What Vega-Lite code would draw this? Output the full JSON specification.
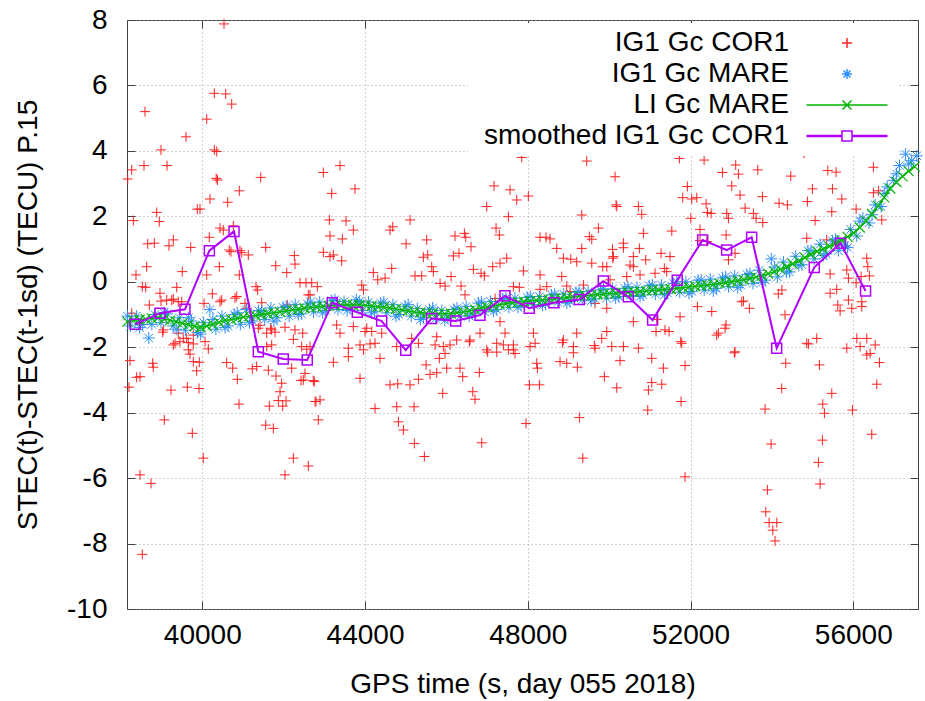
{
  "$schema": "https://vega.github.io/schema/vega-lite/v6.json",
  "width": 791,
  "height": 589,
  "autosize": {"type": "none"},
  "padding": {"left": 127, "top": 20, "right": 7, "bottom": 92},
  "config": {
    "view": {"stroke": "#404040", "strokeWidth": 1},
    "font": "Liberation Sans",
    "axis": {"labelFont": "Liberation Sans", "titleFont": "Liberation Sans", "labelFontSize": 28, "titleFontSize": 28, "labelColor": "#000000", "titleColor": "#000000", "titleFontWeight": "normal", "domain": false, "tickColor": "#404040", "gridColor": "#a0a0a0", "gridDash": [1, 3], "gridOpacity": 1}
  },
  "datasets": {
    "cor": [
      {"t":40534,"v":7.88,"s":"IG1 Gc COR1"},{"t":40296,"v":5.76,"s":"IG1 Gc COR1"},{"t":40575,"v":5.74,"s":"IG1 Gc COR1"},{"t":40723,"v":5.43,"s":"IG1 Gc COR1"},{"t":38592,"v":5.2,"s":"IG1 Gc COR1"},{"t":40109,"v":4.97,"s":"IG1 Gc COR1"},{"t":39600,"v":4.43,"s":"IG1 Gc COR1"},{"t":40296,"v":4.03,"s":"IG1 Gc COR1"},{"t":40355,"v":3.98,"s":"IG1 Gc COR1"},{"t":38986,"v":4.03,"s":"IG1 Gc COR1"},
      {"t":38265,"v":3.42,"s":"IG1 Gc COR1"},{"t":38167,"v":3.14,"s":"IG1 Gc COR1"},{"t":38568,"v":3.55,"s":"IG1 Gc COR1"},{"t":39133,"v":3.55,"s":"IG1 Gc COR1"},{"t":40342,"v":3.16,"s":"IG1 Gc COR1"},{"t":40375,"v":3.11,"s":"IG1 Gc COR1"},{"t":41436,"v":3.19,"s":"IG1 Gc COR1"},{"t":40910,"v":2.78,"s":"IG1 Gc COR1"},{"t":40190,"v":2.53,"s":"IG1 Gc COR1"},{"t":40625,"v":2.43,"s":"IG1 Gc COR1"},
      {"t":39878,"v":2.22,"s":"IG1 Gc COR1"},{"t":39944,"v":2.22,"s":"IG1 Gc COR1"},{"t":38880,"v":2.12,"s":"IG1 Gc COR1"},{"t":38944,"v":1.84,"s":"IG1 Gc COR1"},{"t":38305,"v":1.87,"s":"IG1 Gc COR1"},{"t":40436,"v":1.64,"s":"IG1 Gc COR1"},{"t":40517,"v":1.58,"s":"IG1 Gc COR1"},{"t":40763,"v":1.71,"s":"IG1 Gc COR1"},{"t":40172,"v":1.36,"s":"IG1 Gc COR1"},{"t":38659,"v":1.16,"s":"IG1 Gc COR1"},
      {"t":38821,"v":1.18,"s":"IG1 Gc COR1"},{"t":39182,"v":1.1,"s":"IG1 Gc COR1"},{"t":39288,"v":1.28,"s":"IG1 Gc COR1"},{"t":39716,"v":1.05,"s":"IG1 Gc COR1"},{"t":40664,"v":0.97,"s":"IG1 Gc COR1"},{"t":40927,"v":0.95,"s":"IG1 Gc COR1"},{"t":41131,"v":0.82,"s":"IG1 Gc COR1"},{"t":41559,"v":1.05,"s":"IG1 Gc COR1"},{"t":42262,"v":0.8,"s":"IG1 Gc COR1"},{"t":42279,"v":0.54,"s":"IG1 Gc COR1"},
      {"t":41805,"v":0.49,"s":"IG1 Gc COR1"},{"t":42076,"v":0.28,"s":"IG1 Gc COR1"},{"t":38634,"v":0.46,"s":"IG1 Gc COR1"},{"t":38371,"v":0.21,"s":"IG1 Gc COR1"},{"t":40419,"v":0.46,"s":"IG1 Gc COR1"},{"t":39509,"v":0.31,"s":"IG1 Gc COR1"},{"t":40910,"v":0.21,"s":"IG1 Gc COR1"},{"t":42402,"v":-0.03,"s":"IG1 Gc COR1"},{"t":42550,"v":-0.03,"s":"IG1 Gc COR1"},{"t":38526,"v":-0.15,"s":"IG1 Gc COR1"},
      {"t":38609,"v":-0.17,"s":"IG1 Gc COR1"},{"t":41321,"v":-0.15,"s":"IG1 Gc COR1"},{"t":41362,"v":-0.25,"s":"IG1 Gc COR1"},{"t":42828,"v":-0.15,"s":"IG1 Gc COR1"},{"t":39372,"v":-0.17,"s":"IG1 Gc COR1"},{"t":38961,"v":-0.35,"s":"IG1 Gc COR1"},{"t":40247,"v":-0.37,"s":"IG1 Gc COR1"},{"t":42648,"v":-0.4,"s":"IG1 Gc COR1"},{"t":40846,"v":-0.45,"s":"IG1 Gc COR1"},{"t":39126,"v":-0.56,"s":"IG1 Gc COR1"},
      {"t":39288,"v":-0.53,"s":"IG1 Gc COR1"},{"t":40436,"v":-0.61,"s":"IG1 Gc COR1"},{"t":40043,"v":-0.66,"s":"IG1 Gc COR1"},{"t":38698,"v":-0.71,"s":"IG1 Gc COR1"},{"t":39495,"v":-0.61,"s":"IG1 Gc COR1"},{"t":41461,"v":-0.64,"s":"IG1 Gc COR1"},{"t":41092,"v":-0.81,"s":"IG1 Gc COR1"},{"t":42090,"v":-0.71,"s":"IG1 Gc COR1"},{"t":38265,"v":-0.96,"s":"IG1 Gc COR1"},{"t":41682,"v":-1.42,"s":"IG1 Gc COR1"},
      {"t":41377,"v":-1.42,"s":"IG1 Gc COR1"},{"t":41584,"v":-1.57,"s":"IG1 Gc COR1"},{"t":41788,"v":-1.54,"s":"IG1 Gc COR1"},{"t":42238,"v":-1.76,"s":"IG1 Gc COR1"},{"t":42469,"v":-1.57,"s":"IG1 Gc COR1"},{"t":39027,"v":-1.54,"s":"IG1 Gc COR1"},{"t":39617,"v":-1.73,"s":"IG1 Gc COR1"},{"t":42567,"v":-2.06,"s":"IG1 Gc COR1"},{"t":42648,"v":-1.98,"s":"IG1 Gc COR1"},{"t":41584,"v":-1.98,"s":"IG1 Gc COR1"},
      {"t":40706,"v":0.92,"s":"IG1 Gc COR1"},{"t":40969,"v":0.89,"s":"IG1 Gc COR1"},{"t":40109,"v":0.21,"s":"IG1 Gc COR1"},{"t":40477,"v":-0.56,"s":"IG1 Gc COR1"},{"t":40804,"v":-0.5,"s":"IG1 Gc COR1"},{"t":41050,"v":-0.66,"s":"IG1 Gc COR1"},{"t":38986,"v":-0.59,"s":"IG1 Gc COR1"},{"t":39249,"v":-0.56,"s":"IG1 Gc COR1"},{"t":39410,"v":-0.61,"s":"IG1 Gc COR1"},{"t":41419,"v":-1.33,"s":"IG1 Gc COR1"},
      {"t":41706,"v":-1.47,"s":"IG1 Gc COR1"},{"t":42033,"v":-1.39,"s":"IG1 Gc COR1"},{"t":42279,"v":-1.47,"s":"IG1 Gc COR1"},{"t":42444,"v":-1.98,"s":"IG1 Gc COR1"},{"t":39410,"v":-1.57,"s":"IG1 Gc COR1"},{"t":39533,"v":-1.73,"s":"IG1 Gc COR1"},{"t":39330,"v":-1.88,"s":"IG1 Gc COR1"},{"t":39043,"v":-1.47,"s":"IG1 Gc COR1"},{"t":39780,"v":-1.63,"s":"IG1 Gc COR1"},{"t":40067,"v":-1.83,"s":"IG1 Gc COR1"},
      {"t":39657,"v":-1.86,"s":"IG1 Gc COR1"},{"t":39288,"v":-1.93,"s":"IG1 Gc COR1"},{"t":39452,"v":-1.83,"s":"IG1 Gc COR1"},{"t":39780,"v":-1.9,"s":"IG1 Gc COR1"},{"t":40148,"v":-2.05,"s":"IG1 Gc COR1"},{"t":39657,"v":-2.08,"s":"IG1 Gc COR1"},{"t":39698,"v":-2.21,"s":"IG1 Gc COR1"},{"t":38224,"v":-2.41,"s":"IG1 Gc COR1"},{"t":38781,"v":-2.49,"s":"IG1 Gc COR1"},{"t":38796,"v":-2.61,"s":"IG1 Gc COR1"},
      {"t":38388,"v":-2.92,"s":"IG1 Gc COR1"},{"t":38470,"v":-2.9,"s":"IG1 Gc COR1"},{"t":38199,"v":-3.22,"s":"IG1 Gc COR1"},{"t":39231,"v":-3.31,"s":"IG1 Gc COR1"},{"t":39632,"v":-3.22,"s":"IG1 Gc COR1"},{"t":39920,"v":-3.26,"s":"IG1 Gc COR1"},{"t":39780,"v":-2.44,"s":"IG1 Gc COR1"},{"t":39927,"v":-2.46,"s":"IG1 Gc COR1"},{"t":39863,"v":-2.72,"s":"IG1 Gc COR1"},{"t":39067,"v":-4.22,"s":"IG1 Gc COR1"},
      {"t":39755,"v":-4.63,"s":"IG1 Gc COR1"},{"t":40025,"v":-5.39,"s":"IG1 Gc COR1"},{"t":38470,"v":-5.9,"s":"IG1 Gc COR1"},{"t":38740,"v":-6.16,"s":"IG1 Gc COR1"},{"t":38526,"v":-8.33,"s":"IG1 Gc COR1"},{"t":40600,"v":-2.47,"s":"IG1 Gc COR1"},{"t":40747,"v":-2.64,"s":"IG1 Gc COR1"},{"t":40861,"v":-2.98,"s":"IG1 Gc COR1"},{"t":40903,"v":-3.74,"s":"IG1 Gc COR1"},{"t":41230,"v":-2.66,"s":"IG1 Gc COR1"},
      {"t":41337,"v":-2.59,"s":"IG1 Gc COR1"},{"t":41623,"v":-2.7,"s":"IG1 Gc COR1"},{"t":41812,"v":-2.88,"s":"IG1 Gc COR1"},{"t":41952,"v":-3.1,"s":"IG1 Gc COR1"},{"t":41911,"v":-3.36,"s":"IG1 Gc COR1"},{"t":41869,"v":-3.63,"s":"IG1 Gc COR1"},{"t":42058,"v":-3.64,"s":"IG1 Gc COR1"},{"t":41648,"v":-3.8,"s":"IG1 Gc COR1"},{"t":41976,"v":-3.8,"s":"IG1 Gc COR1"},{"t":41559,"v":-4.38,"s":"IG1 Gc COR1"},
      {"t":41746,"v":-4.48,"s":"IG1 Gc COR1"},{"t":42238,"v":-5.39,"s":"IG1 Gc COR1"},{"t":42606,"v":-5.63,"s":"IG1 Gc COR1"},{"t":42033,"v":-5.9,"s":"IG1 Gc COR1"},{"t":42198,"v":-2.64,"s":"IG1 Gc COR1"},{"t":42427,"v":-3.02,"s":"IG1 Gc COR1"},{"t":42525,"v":-2.8,"s":"IG1 Gc COR1"},{"t":42729,"v":-3.02,"s":"IG1 Gc COR1"},{"t":42795,"v":-3.66,"s":"IG1 Gc COR1"},{"t":42852,"v":-4.22,"s":"IG1 Gc COR1"},
      {"t":41706,"v":-1.93,"s":"IG1 Gc COR1"},{"t":47851,"v":3.8,"s":"IG1 Gc COR1"},{"t":49449,"v":3.69,"s":"IG1 Gc COR1"},{"t":43385,"v":3.55,"s":"IG1 Gc COR1"},{"t":42975,"v":3.34,"s":"IG1 Gc COR1"},{"t":43180,"v":2.7,"s":"IG1 Gc COR1"},{"t":43754,"v":2.84,"s":"IG1 Gc COR1"},{"t":47171,"v":2.93,"s":"IG1 Gc COR1"},{"t":47564,"v":2.81,"s":"IG1 Gc COR1"},{"t":47728,"v":2.5,"s":"IG1 Gc COR1"},
      {"t":48014,"v":2.62,"s":"IG1 Gc COR1"},{"t":46991,"v":2.3,"s":"IG1 Gc COR1"},{"t":47523,"v":1.99,"s":"IG1 Gc COR1"},{"t":50145,"v":3.21,"s":"IG1 Gc COR1"},{"t":50170,"v":2.35,"s":"IG1 Gc COR1"},{"t":49327,"v":2.04,"s":"IG1 Gc COR1"},{"t":43123,"v":1.89,"s":"IG1 Gc COR1"},{"t":43533,"v":1.86,"s":"IG1 Gc COR1"},{"t":45106,"v":1.89,"s":"IG1 Gc COR1"},{"t":43713,"v":1.58,"s":"IG1 Gc COR1"},
      {"t":44615,"v":1.58,"s":"IG1 Gc COR1"},{"t":44681,"v":1.68,"s":"IG1 Gc COR1"},{"t":43139,"v":1.4,"s":"IG1 Gc COR1"},{"t":43442,"v":1.31,"s":"IG1 Gc COR1"},{"t":45008,"v":1.16,"s":"IG1 Gc COR1"},{"t":45516,"v":1.28,"s":"IG1 Gc COR1"},{"t":46212,"v":1.4,"s":"IG1 Gc COR1"},{"t":46441,"v":1.48,"s":"IG1 Gc COR1"},{"t":46475,"v":1.36,"s":"IG1 Gc COR1"},{"t":46605,"v":1.07,"s":"IG1 Gc COR1"},
      {"t":47220,"v":1.64,"s":"IG1 Gc COR1"},{"t":47301,"v":1.43,"s":"IG1 Gc COR1"},{"t":48302,"v":1.36,"s":"IG1 Gc COR1"},{"t":48449,"v":1.36,"s":"IG1 Gc COR1"},{"t":48547,"v":1.31,"s":"IG1 Gc COR1"},{"t":48712,"v":1.02,"s":"IG1 Gc COR1"},{"t":49735,"v":1.64,"s":"IG1 Gc COR1"},{"t":49513,"v":1.38,"s":"IG1 Gc COR1"},{"t":49572,"v":1.3,"s":"IG1 Gc COR1"},{"t":49327,"v":1.02,"s":"IG1 Gc COR1"},
      {"t":50082,"v":0.99,"s":"IG1 Gc COR1"},{"t":42975,"v":0.9,"s":"IG1 Gc COR1"},{"t":43221,"v":0.82,"s":"IG1 Gc COR1"},{"t":43427,"v":0.64,"s":"IG1 Gc COR1"},{"t":43139,"v":0.77,"s":"IG1 Gc COR1"},{"t":45433,"v":0.75,"s":"IG1 Gc COR1"},{"t":45541,"v":0.82,"s":"IG1 Gc COR1"},{"t":46170,"v":0.79,"s":"IG1 Gc COR1"},{"t":46310,"v":0.87,"s":"IG1 Gc COR1"},{"t":44656,"v":0.41,"s":"IG1 Gc COR1"},
      {"t":45639,"v":0.46,"s":"IG1 Gc COR1"},{"t":45679,"v":0.31,"s":"IG1 Gc COR1"},{"t":44204,"v":0.28,"s":"IG1 Gc COR1"},{"t":44312,"v":0.06,"s":"IG1 Gc COR1"},{"t":44492,"v":0.11,"s":"IG1 Gc COR1"},{"t":45229,"v":0.18,"s":"IG1 Gc COR1"},{"t":45393,"v":0.18,"s":"IG1 Gc COR1"},{"t":46114,"v":0.16,"s":"IG1 Gc COR1"},{"t":46662,"v":0.38,"s":"IG1 Gc COR1"},{"t":46851,"v":0.26,"s":"IG1 Gc COR1"},
      {"t":47138,"v":0.46,"s":"IG1 Gc COR1"},{"t":47318,"v":0.57,"s":"IG1 Gc COR1"},{"t":47482,"v":0.72,"s":"IG1 Gc COR1"},{"t":46932,"v":0.18,"s":"IG1 Gc COR1"},{"t":47891,"v":0.33,"s":"IG1 Gc COR1"},{"t":48302,"v":0.21,"s":"IG1 Gc COR1"},{"t":48835,"v":0.16,"s":"IG1 Gc COR1"},{"t":48875,"v":0.72,"s":"IG1 Gc COR1"},{"t":49056,"v":0.69,"s":"IG1 Gc COR1"},{"t":49203,"v":0.61,"s":"IG1 Gc COR1"},
      {"t":49368,"v":-0.1,"s":"IG1 Gc COR1"},{"t":49572,"v":0.57,"s":"IG1 Gc COR1"},{"t":49843,"v":0.46,"s":"IG1 Gc COR1"},{"t":50088,"v":0.72,"s":"IG1 Gc COR1"},{"t":45844,"v":-0.05,"s":"IG1 Gc COR1"},{"t":45967,"v":-0.13,"s":"IG1 Gc COR1"},{"t":46360,"v":-0.13,"s":"IG1 Gc COR1"},{"t":46458,"v":-0.4,"s":"IG1 Gc COR1"},{"t":43920,"v":-0.1,"s":"IG1 Gc COR1"},{"t":43961,"v":-0.25,"s":"IG1 Gc COR1"},
      {"t":42690,"v":-0.03,"s":"IG1 Gc COR1"},{"t":42606,"v":-0.4,"s":"IG1 Gc COR1"},{"t":47646,"v":-0.15,"s":"IG1 Gc COR1"},{"t":47793,"v":-0.17,"s":"IG1 Gc COR1"},{"t":48302,"v":-0.23,"s":"IG1 Gc COR1"},{"t":48466,"v":-0.15,"s":"IG1 Gc COR1"},{"t":48957,"v":-0.13,"s":"IG1 Gc COR1"},{"t":49039,"v":-0.3,"s":"IG1 Gc COR1"},{"t":47196,"v":-0.51,"s":"IG1 Gc COR1"},{"t":49941,"v":-0.81,"s":"IG1 Gc COR1"},
      {"t":49653,"v":-0.66,"s":"IG1 Gc COR1"},{"t":43304,"v":-1.32,"s":"IG1 Gc COR1"},{"t":43385,"v":-1.57,"s":"IG1 Gc COR1"},{"t":43713,"v":-1.37,"s":"IG1 Gc COR1"},{"t":44000,"v":-1.52,"s":"IG1 Gc COR1"},{"t":44042,"v":-1.42,"s":"IG1 Gc COR1"},{"t":44165,"v":-1.52,"s":"IG1 Gc COR1"},{"t":44411,"v":-1.57,"s":"IG1 Gc COR1"},{"t":43590,"v":-2.03,"s":"IG1 Gc COR1"},{"t":43961,"v":-2.08,"s":"IG1 Gc COR1"},
      {"t":44246,"v":-1.88,"s":"IG1 Gc COR1"},{"t":44779,"v":-1.98,"s":"IG1 Gc COR1"},{"t":45147,"v":-1.73,"s":"IG1 Gc COR1"},{"t":45311,"v":-1.88,"s":"IG1 Gc COR1"},{"t":45762,"v":-1.68,"s":"IG1 Gc COR1"},{"t":45925,"v":-1.98,"s":"IG1 Gc COR1"},{"t":46253,"v":-1.78,"s":"IG1 Gc COR1"},{"t":46581,"v":-1.78,"s":"IG1 Gc COR1"},{"t":46826,"v":-1.57,"s":"IG1 Gc COR1"},{"t":46991,"v":-2.08,"s":"IG1 Gc COR1"},
      {"t":47237,"v":-1.88,"s":"IG1 Gc COR1"},{"t":47441,"v":-1.57,"s":"IG1 Gc COR1"},{"t":47523,"v":-2.08,"s":"IG1 Gc COR1"},{"t":47318,"v":-1.22,"s":"IG1 Gc COR1"},{"t":47646,"v":-2.08,"s":"IG1 Gc COR1"},{"t":48137,"v":-1.57,"s":"IG1 Gc COR1"},{"t":48179,"v":-1.88,"s":"IG1 Gc COR1"},{"t":48875,"v":-1.78,"s":"IG1 Gc COR1"},{"t":49121,"v":-1.98,"s":"IG1 Gc COR1"},{"t":49203,"v":-1.57,"s":"IG1 Gc COR1"},
      {"t":49653,"v":-2.03,"s":"IG1 Gc COR1"},{"t":49818,"v":-1.73,"s":"IG1 Gc COR1"},{"t":49941,"v":-1.52,"s":"IG1 Gc COR1"},{"t":50064,"v":-1.98,"s":"IG1 Gc COR1"},{"t":43221,"v":-2.46,"s":"IG1 Gc COR1"},{"t":43590,"v":-2.29,"s":"IG1 Gc COR1"},{"t":43877,"v":-1.93,"s":"IG1 Gc COR1"},{"t":44123,"v":-1.9,"s":"IG1 Gc COR1"},{"t":44369,"v":-2.34,"s":"IG1 Gc COR1"},{"t":43877,"v":-2.95,"s":"IG1 Gc COR1"},
      {"t":44246,"v":-3.87,"s":"IG1 Gc COR1"},{"t":44615,"v":-3.15,"s":"IG1 Gc COR1"},{"t":44804,"v":-3.12,"s":"IG1 Gc COR1"},{"t":44779,"v":-3.82,"s":"IG1 Gc COR1"},{"t":44820,"v":-4.28,"s":"IG1 Gc COR1"},{"t":44943,"v":-4.53,"s":"IG1 Gc COR1"},{"t":45205,"v":-3.82,"s":"IG1 Gc COR1"},{"t":45106,"v":-3.15,"s":"IG1 Gc COR1"},{"t":45311,"v":-2.98,"s":"IG1 Gc COR1"},{"t":45212,"v":-4.94,"s":"IG1 Gc COR1"},
      {"t":45458,"v":-5.34,"s":"IG1 Gc COR1"},{"t":45500,"v":-2.54,"s":"IG1 Gc COR1"},{"t":45598,"v":-2.83,"s":"IG1 Gc COR1"},{"t":45762,"v":-2.78,"s":"IG1 Gc COR1"},{"t":45827,"v":-2.34,"s":"IG1 Gc COR1"},{"t":45967,"v":-2.19,"s":"IG1 Gc COR1"},{"t":46008,"v":-2.64,"s":"IG1 Gc COR1"},{"t":45721,"v":-1.93,"s":"IG1 Gc COR1"},{"t":46089,"v":-1.93,"s":"IG1 Gc COR1"},{"t":45910,"v":-3.41,"s":"IG1 Gc COR1"},
      {"t":46335,"v":-2.64,"s":"IG1 Gc COR1"},{"t":46401,"v":-2.9,"s":"IG1 Gc COR1"},{"t":46564,"v":-1.83,"s":"IG1 Gc COR1"},{"t":46810,"v":-2.77,"s":"IG1 Gc COR1"},{"t":46647,"v":-3.36,"s":"IG1 Gc COR1"},{"t":46703,"v":-3.59,"s":"IG1 Gc COR1"},{"t":46868,"v":-4.92,"s":"IG1 Gc COR1"},{"t":47015,"v":-2.15,"s":"IG1 Gc COR1"},{"t":47237,"v":-2.15,"s":"IG1 Gc COR1"},{"t":47400,"v":-1.93,"s":"IG1 Gc COR1"},
      {"t":47687,"v":-2.19,"s":"IG1 Gc COR1"},{"t":47646,"v":-1.93,"s":"IG1 Gc COR1"},{"t":48056,"v":-1.98,"s":"IG1 Gc COR1"},{"t":48220,"v":-2.49,"s":"IG1 Gc COR1"},{"t":48236,"v":-2.64,"s":"IG1 Gc COR1"},{"t":48039,"v":-3.15,"s":"IG1 Gc COR1"},{"t":48285,"v":-3.15,"s":"IG1 Gc COR1"},{"t":47957,"v":-4.33,"s":"IG1 Gc COR1"},{"t":48793,"v":-2.44,"s":"IG1 Gc COR1"},{"t":48957,"v":-2.49,"s":"IG1 Gc COR1"},
      {"t":49219,"v":-2.61,"s":"IG1 Gc COR1"},{"t":49121,"v":-2.17,"s":"IG1 Gc COR1"},{"t":48850,"v":-1.86,"s":"IG1 Gc COR1"},{"t":49636,"v":-1.95,"s":"IG1 Gc COR1"},{"t":49882,"v":-2.9,"s":"IG1 Gc COR1"},{"t":50187,"v":-3.24,"s":"IG1 Gc COR1"},{"t":49268,"v":-4.15,"s":"IG1 Gc COR1"},{"t":49352,"v":-5.39,"s":"IG1 Gc COR1"},{"t":42894,"v":-3.61,"s":"IG1 Gc COR1"},{"t":42771,"v":-3.66,"s":"IG1 Gc COR1"},
      {"t":42754,"v":-3.05,"s":"IG1 Gc COR1"},{"t":42483,"v":-3.0,"s":"IG1 Gc COR1"},{"t":54955,"v":5.88,"s":"IG1 Gc COR1"},{"t":51619,"v":4.13,"s":"IG1 Gc COR1"},{"t":51726,"v":3.77,"s":"IG1 Gc COR1"},{"t":52333,"v":3.72,"s":"IG1 Gc COR1"},{"t":54430,"v":4.05,"s":"IG1 Gc COR1"},{"t":54791,"v":3.93,"s":"IG1 Gc COR1"},{"t":55781,"v":4.01,"s":"IG1 Gc COR1"},{"t":53110,"v":3.57,"s":"IG1 Gc COR1"},
      {"t":52783,"v":3.34,"s":"IG1 Gc COR1"},{"t":53176,"v":3.29,"s":"IG1 Gc COR1"},{"t":53653,"v":3.42,"s":"IG1 Gc COR1"},{"t":54463,"v":3.23,"s":"IG1 Gc COR1"},{"t":55373,"v":3.4,"s":"IG1 Gc COR1"},{"t":55577,"v":3.35,"s":"IG1 Gc COR1"},{"t":56494,"v":3.5,"s":"IG1 Gc COR1"},{"t":51922,"v":2.91,"s":"IG1 Gc COR1"},{"t":53013,"v":2.93,"s":"IG1 Gc COR1"},{"t":51808,"v":2.57,"s":"IG1 Gc COR1"},
      {"t":52029,"v":2.53,"s":"IG1 Gc COR1"},{"t":52153,"v":2.57,"s":"IG1 Gc COR1"},{"t":53217,"v":2.65,"s":"IG1 Gc COR1"},{"t":53766,"v":2.6,"s":"IG1 Gc COR1"},{"t":54176,"v":2.4,"s":"IG1 Gc COR1"},{"t":54380,"v":2.35,"s":"IG1 Gc COR1"},{"t":54995,"v":2.84,"s":"IG1 Gc COR1"},{"t":55487,"v":2.84,"s":"IG1 Gc COR1"},{"t":54872,"v":2.45,"s":"IG1 Gc COR1"},{"t":55717,"v":2.53,"s":"IG1 Gc COR1"},
      {"t":50718,"v":2.3,"s":"IG1 Gc COR1"},{"t":50187,"v":2.3,"s":"IG1 Gc COR1"},{"t":50801,"v":2.06,"s":"IG1 Gc COR1"},{"t":52006,"v":1.94,"s":"IG1 Gc COR1"},{"t":52382,"v":2.38,"s":"IG1 Gc COR1"},{"t":52415,"v":2.12,"s":"IG1 Gc COR1"},{"t":52505,"v":2.09,"s":"IG1 Gc COR1"},{"t":52890,"v":2.09,"s":"IG1 Gc COR1"},{"t":52931,"v":1.94,"s":"IG1 Gc COR1"},{"t":53341,"v":2.25,"s":"IG1 Gc COR1"},
      {"t":53545,"v":2.09,"s":"IG1 Gc COR1"},{"t":53611,"v":1.94,"s":"IG1 Gc COR1"},{"t":53775,"v":1.81,"s":"IG1 Gc COR1"},{"t":55471,"v":2.14,"s":"IG1 Gc COR1"},{"t":56069,"v":2.22,"s":"IG1 Gc COR1"},{"t":55061,"v":1.87,"s":"IG1 Gc COR1"},{"t":52233,"v":1.6,"s":"IG1 Gc COR1"},{"t":52233,"v":1.26,"s":"IG1 Gc COR1"},{"t":52398,"v":1.23,"s":"IG1 Gc COR1"},{"t":52873,"v":1.43,"s":"IG1 Gc COR1"},
      {"t":53094,"v":0.87,"s":"IG1 Gc COR1"},{"t":52931,"v":0.67,"s":"IG1 Gc COR1"},{"t":51539,"v":1.55,"s":"IG1 Gc COR1"},{"t":50841,"v":1.48,"s":"IG1 Gc COR1"},{"t":54856,"v":1.33,"s":"IG1 Gc COR1"},{"t":56331,"v":0.72,"s":"IG1 Gc COR1"},{"t":55430,"v":0.24,"s":"IG1 Gc COR1"},{"t":55840,"v":0.36,"s":"IG1 Gc COR1"},{"t":56356,"v":0.46,"s":"IG1 Gc COR1"},{"t":56192,"v":0.16,"s":"IG1 Gc COR1"},
      {"t":56396,"v":0.18,"s":"IG1 Gc COR1"},{"t":55880,"v":0.11,"s":"IG1 Gc COR1"},{"t":50350,"v":1.18,"s":"IG1 Gc COR1"},{"t":50350,"v":1.04,"s":"IG1 Gc COR1"},{"t":50104,"v":0.77,"s":"IG1 Gc COR1"},{"t":50594,"v":0.77,"s":"IG1 Gc COR1"},{"t":50742,"v":1.02,"s":"IG1 Gc COR1"},{"t":50899,"v":0.67,"s":"IG1 Gc COR1"},{"t":50513,"v":0.51,"s":"IG1 Gc COR1"},{"t":50594,"v":0.46,"s":"IG1 Gc COR1"},
      {"t":51275,"v":0.87,"s":"IG1 Gc COR1"},{"t":51496,"v":0.77,"s":"IG1 Gc COR1"},{"t":51356,"v":0.41,"s":"IG1 Gc COR1"},{"t":51414,"v":0.31,"s":"IG1 Gc COR1"},{"t":49941,"v":0.46,"s":"IG1 Gc COR1"},{"t":50022,"v":0.06,"s":"IG1 Gc COR1"},{"t":50432,"v":0.16,"s":"IG1 Gc COR1"},{"t":50759,"v":0.21,"s":"IG1 Gc COR1"},{"t":51128,"v":0.26,"s":"IG1 Gc COR1"},{"t":54245,"v":-0.25,"s":"IG1 Gc COR1"},
      {"t":55430,"v":-0.35,"s":"IG1 Gc COR1"},{"t":55880,"v":-0.56,"s":"IG1 Gc COR1"},{"t":55963,"v":-0.81,"s":"IG1 Gc COR1"},{"t":55618,"v":-0.71,"s":"IG1 Gc COR1"},{"t":55676,"v":-0.89,"s":"IG1 Gc COR1"},{"t":56209,"v":-0.61,"s":"IG1 Gc COR1"},{"t":56209,"v":-0.76,"s":"IG1 Gc COR1"},{"t":53300,"v":-0.59,"s":"IG1 Gc COR1"},{"t":52521,"v":-0.91,"s":"IG1 Gc COR1"},{"t":52168,"v":-0.76,"s":"IG1 Gc COR1"},
      {"t":51742,"v":-1.07,"s":"IG1 Gc COR1"},{"t":51169,"v":-1.15,"s":"IG1 Gc COR1"},{"t":50594,"v":-1.22,"s":"IG1 Gc COR1"},{"t":51472,"v":-1.52,"s":"IG1 Gc COR1"},{"t":51759,"v":-1.83,"s":"IG1 Gc COR1"},{"t":51152,"v":-1.52,"s":"IG1 Gc COR1"},{"t":51373,"v":-1.47,"s":"IG1 Gc COR1"},{"t":52684,"v":-1.57,"s":"IG1 Gc COR1"},{"t":52848,"v":-1.42,"s":"IG1 Gc COR1"},{"t":54323,"v":-1.01,"s":"IG1 Gc COR1"},
      {"t":54856,"v":-1.88,"s":"IG1 Gc COR1"},{"t":55102,"v":-1.73,"s":"IG1 Gc COR1"},{"t":55840,"v":-2.03,"s":"IG1 Gc COR1"},{"t":56086,"v":-1.73,"s":"IG1 Gc COR1"},{"t":56331,"v":-1.73,"s":"IG1 Gc COR1"},{"t":53094,"v":-2.14,"s":"IG1 Gc COR1"},{"t":52643,"v":-1.63,"s":"IG1 Gc COR1"},{"t":52873,"v":-1.32,"s":"IG1 Gc COR1"},{"t":50350,"v":-1.98,"s":"IG1 Gc COR1"},{"t":50718,"v":-2.03,"s":"IG1 Gc COR1"},
      {"t":51046,"v":-2.34,"s":"IG1 Gc COR1"},{"t":50268,"v":-2.41,"s":"IG1 Gc COR1"},{"t":51332,"v":-2.64,"s":"IG1 Gc COR1"},{"t":51865,"v":-2.56,"s":"IG1 Gc COR1"},{"t":51783,"v":-1.88,"s":"IG1 Gc COR1"},{"t":50964,"v":-3.31,"s":"IG1 Gc COR1"},{"t":51046,"v":-3.08,"s":"IG1 Gc COR1"},{"t":51292,"v":-3.13,"s":"IG1 Gc COR1"},{"t":51767,"v":-3.66,"s":"IG1 Gc COR1"},{"t":50948,"v":-3.92,"s":"IG1 Gc COR1"},
      {"t":51865,"v":-5.96,"s":"IG1 Gc COR1"},{"t":53077,"v":-2.17,"s":"IG1 Gc COR1"},{"t":54340,"v":-2.49,"s":"IG1 Gc COR1"},{"t":54241,"v":-3.26,"s":"IG1 Gc COR1"},{"t":53832,"v":-3.89,"s":"IG1 Gc COR1"},{"t":53980,"v":-4.96,"s":"IG1 Gc COR1"},{"t":53889,"v":-6.36,"s":"IG1 Gc COR1"},{"t":53849,"v":-7.03,"s":"IG1 Gc COR1"},{"t":53931,"v":-7.36,"s":"IG1 Gc COR1"},{"t":54120,"v":-7.36,"s":"IG1 Gc COR1"},
      {"t":54021,"v":-7.59,"s":"IG1 Gc COR1"},{"t":54077,"v":-7.92,"s":"IG1 Gc COR1"},{"t":54897,"v":-1.9,"s":"IG1 Gc COR1"},{"t":55167,"v":-2.54,"s":"IG1 Gc COR1"},{"t":55471,"v":-3.41,"s":"IG1 Gc COR1"},{"t":55250,"v":-3.74,"s":"IG1 Gc COR1"},{"t":55290,"v":-4.02,"s":"IG1 Gc COR1"},{"t":55240,"v":-4.84,"s":"IG1 Gc COR1"},{"t":55142,"v":-5.52,"s":"IG1 Gc COR1"},{"t":55184,"v":-6.18,"s":"IG1 Gc COR1"},
      {"t":55978,"v":-3.92,"s":"IG1 Gc COR1"},{"t":56167,"v":-1.98,"s":"IG1 Gc COR1"},{"t":56331,"v":-2.24,"s":"IG1 Gc COR1"},{"t":56536,"v":-1.93,"s":"IG1 Gc COR1"},{"t":56642,"v":-2.47,"s":"IG1 Gc COR1"},{"t":56577,"v":-3.13,"s":"IG1 Gc COR1"},{"t":56454,"v":-4.66,"s":"IG1 Gc COR1"},{"t":56413,"v":-2.19,"s":"IG1 Gc COR1"},{"t":56494,"v":2.72,"s":"IG1 Gc COR1"},{"t":56617,"v":2.78,"s":"IG1 Gc COR1"},
      {"t":56700,"v":1.89,"s":"IG1 Gc COR1"},{"t":55347,"v":1.28,"s":"IG1 Gc COR1"},{"t":56069,"v":-0.03,"s":"IG1 Gc COR1"},{"t":55593,"v":-0.23,"s":"IG1 Gc COR1"},{"t":54158,"v":-0.37,"s":"IG1 Gc COR1"},{"t":53259,"v":-0.61,"s":"IG1 Gc COR1"},{"t":53446,"v":-0.81,"s":"IG1 Gc COR1"}
    ],
    "mare": [
      {"t":38235,"v":-1.35,"s":"IG1 Gc MARE"},{"t":38385,"v":-1.05,"s":"IG1 Gc MARE"},{"t":38535,"v":-1.3,"s":"IG1 Gc MARE"},{"t":38685,"v":-1.72,"s":"IG1 Gc MARE"},{"t":38835,"v":-1.0,"s":"IG1 Gc MARE"},{"t":38985,"v":-1.25,"s":"IG1 Gc MARE"},{"t":39135,"v":-0.98,"s":"IG1 Gc MARE"},{"t":39285,"v":-1.35,"s":"IG1 Gc MARE"},{"t":39435,"v":-1.1,"s":"IG1 Gc MARE"},{"t":39585,"v":-1.48,"s":"IG1 Gc MARE"},
      {"t":39735,"v":-1.2,"s":"IG1 Gc MARE"},{"t":39885,"v":-1.55,"s":"IG1 Gc MARE"},{"t":40035,"v":-1.25,"s":"IG1 Gc MARE"},{"t":40185,"v":-0.85,"s":"IG1 Gc MARE"},{"t":40335,"v":-1.45,"s":"IG1 Gc MARE"},{"t":40485,"v":-1.05,"s":"IG1 Gc MARE"},{"t":40635,"v":-1.35,"s":"IG1 Gc MARE"},{"t":40785,"v":-1.0,"s":"IG1 Gc MARE"},{"t":40935,"v":-1.3,"s":"IG1 Gc MARE"},{"t":41085,"v":-0.85,"s":"IG1 Gc MARE"},
      {"t":41235,"v":-1.2,"s":"IG1 Gc MARE"},{"t":41385,"v":-0.88,"s":"IG1 Gc MARE"},{"t":41535,"v":-1.15,"s":"IG1 Gc MARE"},{"t":41685,"v":-0.8,"s":"IG1 Gc MARE"},{"t":41835,"v":-1.1,"s":"IG1 Gc MARE"},{"t":41985,"v":-0.78,"s":"IG1 Gc MARE"},{"t":42135,"v":-1.05,"s":"IG1 Gc MARE"},{"t":42285,"v":-0.7,"s":"IG1 Gc MARE"},{"t":42435,"v":-0.98,"s":"IG1 Gc MARE"},{"t":42585,"v":-0.68,"s":"IG1 Gc MARE"},
      {"t":42735,"v":-0.92,"s":"IG1 Gc MARE"},{"t":42885,"v":-0.62,"s":"IG1 Gc MARE"},{"t":43035,"v":-0.88,"s":"IG1 Gc MARE"},{"t":43185,"v":-0.58,"s":"IG1 Gc MARE"},{"t":43335,"v":-0.85,"s":"IG1 Gc MARE"},{"t":43485,"v":-0.6,"s":"IG1 Gc MARE"},{"t":43635,"v":-0.8,"s":"IG1 Gc MARE"},{"t":43785,"v":-0.55,"s":"IG1 Gc MARE"},{"t":43935,"v":-0.88,"s":"IG1 Gc MARE"},{"t":44085,"v":-0.62,"s":"IG1 Gc MARE"},
      {"t":44235,"v":-0.9,"s":"IG1 Gc MARE"},{"t":44385,"v":-0.65,"s":"IG1 Gc MARE"},{"t":44535,"v":-0.95,"s":"IG1 Gc MARE"},{"t":44685,"v":-0.7,"s":"IG1 Gc MARE"},{"t":44835,"v":-1.0,"s":"IG1 Gc MARE"},{"t":44985,"v":-0.75,"s":"IG1 Gc MARE"},{"t":45135,"v":-1.05,"s":"IG1 Gc MARE"},{"t":45285,"v":-0.82,"s":"IG1 Gc MARE"},{"t":45435,"v":-1.1,"s":"IG1 Gc MARE"},{"t":45585,"v":-0.85,"s":"IG1 Gc MARE"},
      {"t":45735,"v":-1.12,"s":"IG1 Gc MARE"},{"t":45885,"v":-0.88,"s":"IG1 Gc MARE"},{"t":46035,"v":-1.1,"s":"IG1 Gc MARE"},{"t":46185,"v":-0.85,"s":"IG1 Gc MARE"},{"t":46335,"v":-1.05,"s":"IG1 Gc MARE"},{"t":46485,"v":-0.75,"s":"IG1 Gc MARE"},{"t":46635,"v":-0.98,"s":"IG1 Gc MARE"},{"t":46785,"v":-0.65,"s":"IG1 Gc MARE"},{"t":46935,"v":-0.92,"s":"IG1 Gc MARE"},{"t":47085,"v":-0.6,"s":"IG1 Gc MARE"},
      {"t":47235,"v":-0.85,"s":"IG1 Gc MARE"},{"t":47385,"v":-0.52,"s":"IG1 Gc MARE"},{"t":47535,"v":-0.78,"s":"IG1 Gc MARE"},{"t":47685,"v":-0.5,"s":"IG1 Gc MARE"},{"t":47835,"v":-0.72,"s":"IG1 Gc MARE"},{"t":47985,"v":-0.48,"s":"IG1 Gc MARE"},{"t":48135,"v":-0.7,"s":"IG1 Gc MARE"},{"t":48285,"v":-0.45,"s":"IG1 Gc MARE"},{"t":48435,"v":-0.68,"s":"IG1 Gc MARE"},{"t":48585,"v":-0.4,"s":"IG1 Gc MARE"},
      {"t":48735,"v":-0.62,"s":"IG1 Gc MARE"},{"t":48885,"v":-0.38,"s":"IG1 Gc MARE"},{"t":49035,"v":-0.6,"s":"IG1 Gc MARE"},{"t":49185,"v":-0.32,"s":"IG1 Gc MARE"},{"t":49335,"v":-0.55,"s":"IG1 Gc MARE"},{"t":49485,"v":-0.3,"s":"IG1 Gc MARE"},{"t":49635,"v":-0.52,"s":"IG1 Gc MARE"},{"t":49785,"v":-0.25,"s":"IG1 Gc MARE"},{"t":49935,"v":-0.5,"s":"IG1 Gc MARE"},{"t":50085,"v":-0.22,"s":"IG1 Gc MARE"},
      {"t":50235,"v":-0.45,"s":"IG1 Gc MARE"},{"t":50385,"v":-0.2,"s":"IG1 Gc MARE"},{"t":50535,"v":-0.42,"s":"IG1 Gc MARE"},{"t":50685,"v":-0.18,"s":"IG1 Gc MARE"},{"t":50835,"v":-0.4,"s":"IG1 Gc MARE"},{"t":50985,"v":-0.12,"s":"IG1 Gc MARE"},{"t":51135,"v":-0.38,"s":"IG1 Gc MARE"},{"t":51285,"v":-0.1,"s":"IG1 Gc MARE"},{"t":51435,"v":-0.35,"s":"IG1 Gc MARE"},{"t":51585,"v":-0.05,"s":"IG1 Gc MARE"},
      {"t":51735,"v":-0.32,"s":"IG1 Gc MARE"},{"t":51885,"v":0.0,"s":"IG1 Gc MARE"},{"t":52035,"v":-0.3,"s":"IG1 Gc MARE"},{"t":52185,"v":0.05,"s":"IG1 Gc MARE"},{"t":52335,"v":-0.25,"s":"IG1 Gc MARE"},{"t":52485,"v":0.08,"s":"IG1 Gc MARE"},{"t":52635,"v":-0.2,"s":"IG1 Gc MARE"},{"t":52785,"v":0.12,"s":"IG1 Gc MARE"},{"t":52935,"v":-0.15,"s":"IG1 Gc MARE"},{"t":53085,"v":0.18,"s":"IG1 Gc MARE"},
      {"t":53235,"v":-0.1,"s":"IG1 Gc MARE"},{"t":53385,"v":0.22,"s":"IG1 Gc MARE"},{"t":53535,"v":-0.05,"s":"IG1 Gc MARE"},{"t":53685,"v":0.35,"s":"IG1 Gc MARE"},{"t":53835,"v":0.05,"s":"IG1 Gc MARE"},{"t":53985,"v":0.7,"s":"IG1 Gc MARE"},{"t":54135,"v":0.15,"s":"IG1 Gc MARE"},{"t":54285,"v":0.6,"s":"IG1 Gc MARE"},{"t":54435,"v":0.3,"s":"IG1 Gc MARE"},{"t":54585,"v":0.78,"s":"IG1 Gc MARE"},
      {"t":54735,"v":0.52,"s":"IG1 Gc MARE"},{"t":54885,"v":0.95,"s":"IG1 Gc MARE"},{"t":55035,"v":0.7,"s":"IG1 Gc MARE"},{"t":55185,"v":1.15,"s":"IG1 Gc MARE"},{"t":55335,"v":0.85,"s":"IG1 Gc MARE"},{"t":55485,"v":1.25,"s":"IG1 Gc MARE"},{"t":55635,"v":0.95,"s":"IG1 Gc MARE"},{"t":55785,"v":1.1,"s":"IG1 Gc MARE"},{"t":55935,"v":1.6,"s":"IG1 Gc MARE"},{"t":56085,"v":1.4,"s":"IG1 Gc MARE"},
      {"t":56235,"v":1.95,"s":"IG1 Gc MARE"},{"t":56385,"v":1.8,"s":"IG1 Gc MARE"},{"t":56535,"v":2.35,"s":"IG1 Gc MARE"},{"t":56685,"v":2.3,"s":"IG1 Gc MARE"},{"t":56835,"v":2.9,"s":"IG1 Gc MARE"},{"t":56985,"v":3.1,"s":"IG1 Gc MARE"},{"t":57135,"v":3.55,"s":"IG1 Gc MARE"},{"t":57285,"v":3.9,"s":"IG1 Gc MARE"},{"t":57435,"v":3.7,"s":"IG1 Gc MARE"},{"t":57560,"v":3.85,"s":"IG1 Gc MARE"},
      {"t":38160,"v":-1.05,"s":"IG1 Gc MARE"},{"t":38460,"v":-1.4,"s":"IG1 Gc MARE"},{"t":38760,"v":-1.3,"s":"IG1 Gc MARE"},{"t":39060,"v":-0.95,"s":"IG1 Gc MARE"},{"t":39360,"v":-1.45,"s":"IG1 Gc MARE"},{"t":39660,"v":-1.1,"s":"IG1 Gc MARE"},{"t":39960,"v":-1.6,"s":"IG1 Gc MARE"},{"t":40260,"v":-1.15,"s":"IG1 Gc MARE"},{"t":40560,"v":-1.4,"s":"IG1 Gc MARE"},{"t":40860,"v":-0.95,"s":"IG1 Gc MARE"},
      {"t":41160,"v":-1.25,"s":"IG1 Gc MARE"},{"t":41460,"v":-0.9,"s":"IG1 Gc MARE"},{"t":41760,"v":-1.2,"s":"IG1 Gc MARE"},{"t":42060,"v":-0.75,"s":"IG1 Gc MARE"},{"t":42360,"v":-1.0,"s":"IG1 Gc MARE"},{"t":42660,"v":-0.62,"s":"IG1 Gc MARE"},{"t":42960,"v":-0.95,"s":"IG1 Gc MARE"},{"t":43260,"v":-0.55,"s":"IG1 Gc MARE"},{"t":43560,"v":-0.88,"s":"IG1 Gc MARE"},{"t":43860,"v":-0.6,"s":"IG1 Gc MARE"},
      {"t":44160,"v":-0.95,"s":"IG1 Gc MARE"},{"t":44460,"v":-0.62,"s":"IG1 Gc MARE"},{"t":44760,"v":-1.05,"s":"IG1 Gc MARE"},{"t":45060,"v":-0.7,"s":"IG1 Gc MARE"},{"t":45360,"v":-1.15,"s":"IG1 Gc MARE"},{"t":45660,"v":-0.8,"s":"IG1 Gc MARE"},{"t":45960,"v":-1.18,"s":"IG1 Gc MARE"},{"t":46260,"v":-0.8,"s":"IG1 Gc MARE"},{"t":46560,"v":-1.05,"s":"IG1 Gc MARE"},{"t":46860,"v":-0.62,"s":"IG1 Gc MARE"},
      {"t":47160,"v":-0.9,"s":"IG1 Gc MARE"},{"t":47460,"v":-0.5,"s":"IG1 Gc MARE"},{"t":47760,"v":-0.78,"s":"IG1 Gc MARE"},{"t":48060,"v":-0.45,"s":"IG1 Gc MARE"},{"t":48360,"v":-0.72,"s":"IG1 Gc MARE"},{"t":48660,"v":-0.38,"s":"IG1 Gc MARE"},{"t":48960,"v":-0.65,"s":"IG1 Gc MARE"},{"t":49260,"v":-0.3,"s":"IG1 Gc MARE"},{"t":49560,"v":-0.58,"s":"IG1 Gc MARE"},{"t":49860,"v":-0.22,"s":"IG1 Gc MARE"},
      {"t":50160,"v":-0.5,"s":"IG1 Gc MARE"},{"t":50460,"v":-0.15,"s":"IG1 Gc MARE"},{"t":50760,"v":-0.45,"s":"IG1 Gc MARE"},{"t":51060,"v":-0.1,"s":"IG1 Gc MARE"},{"t":51360,"v":-0.4,"s":"IG1 Gc MARE"},{"t":51660,"v":0.0,"s":"IG1 Gc MARE"},{"t":51960,"v":-0.35,"s":"IG1 Gc MARE"},{"t":52260,"v":0.05,"s":"IG1 Gc MARE"},{"t":52560,"v":-0.28,"s":"IG1 Gc MARE"},{"t":52860,"v":0.15,"s":"IG1 Gc MARE"},
      {"t":53160,"v":-0.18,"s":"IG1 Gc MARE"},{"t":53460,"v":0.25,"s":"IG1 Gc MARE"},{"t":53760,"v":-0.02,"s":"IG1 Gc MARE"},{"t":54060,"v":0.45,"s":"IG1 Gc MARE"},{"t":54360,"v":0.3,"s":"IG1 Gc MARE"},{"t":54660,"v":0.5,"s":"IG1 Gc MARE"},{"t":54960,"v":0.95,"s":"IG1 Gc MARE"},{"t":55260,"v":0.8,"s":"IG1 Gc MARE"},{"t":55560,"v":1.3,"s":"IG1 Gc MARE"},{"t":55860,"v":1.05,"s":"IG1 Gc MARE"},
      {"t":56160,"v":1.85,"s":"IG1 Gc MARE"},{"t":56460,"v":2.05,"s":"IG1 Gc MARE"},{"t":56760,"v":2.7,"s":"IG1 Gc MARE"},{"t":57060,"v":3.3,"s":"IG1 Gc MARE"},{"t":57360,"v":3.6,"s":"IG1 Gc MARE"}
    ],
    "li": [
      {"t":38160,"v":-1.22,"s":"LI Gc MARE"},{"t":38310,"v":-1.18,"s":"LI Gc MARE"},{"t":38460,"v":-1.16,"s":"LI Gc MARE"},{"t":38610,"v":-1.14,"s":"LI Gc MARE"},{"t":38760,"v":-1.12,"s":"LI Gc MARE"},{"t":38910,"v":-1.1,"s":"LI Gc MARE"},{"t":39060,"v":-1.14,"s":"LI Gc MARE"},{"t":39210,"v":-1.18,"s":"LI Gc MARE"},{"t":39360,"v":-1.22,"s":"LI Gc MARE"},{"t":39510,"v":-1.27,"s":"LI Gc MARE"},
      {"t":39660,"v":-1.31,"s":"LI Gc MARE"},{"t":39810,"v":-1.36,"s":"LI Gc MARE"},{"t":39960,"v":-1.39,"s":"LI Gc MARE"},{"t":40110,"v":-1.35,"s":"LI Gc MARE"},{"t":40260,"v":-1.3,"s":"LI Gc MARE"},{"t":40410,"v":-1.24,"s":"LI Gc MARE"},{"t":40560,"v":-1.18,"s":"LI Gc MARE"},{"t":40710,"v":-1.15,"s":"LI Gc MARE"},{"t":40860,"v":-1.12,"s":"LI Gc MARE"},{"t":41010,"v":-1.08,"s":"LI Gc MARE"},
      {"t":41160,"v":-1.05,"s":"LI Gc MARE"},{"t":41310,"v":-1.03,"s":"LI Gc MARE"},{"t":41460,"v":-1.0,"s":"LI Gc MARE"},{"t":41610,"v":-0.97,"s":"LI Gc MARE"},{"t":41760,"v":-0.95,"s":"LI Gc MARE"},{"t":41910,"v":-0.92,"s":"LI Gc MARE"},{"t":42060,"v":-0.89,"s":"LI Gc MARE"},{"t":42210,"v":-0.86,"s":"LI Gc MARE"},{"t":42360,"v":-0.84,"s":"LI Gc MARE"},{"t":42510,"v":-0.81,"s":"LI Gc MARE"},
      {"t":42660,"v":-0.79,"s":"LI Gc MARE"},{"t":42810,"v":-0.77,"s":"LI Gc MARE"},{"t":42960,"v":-0.75,"s":"LI Gc MARE"},{"t":43110,"v":-0.73,"s":"LI Gc MARE"},{"t":43260,"v":-0.72,"s":"LI Gc MARE"},{"t":43410,"v":-0.71,"s":"LI Gc MARE"},{"t":43560,"v":-0.7,"s":"LI Gc MARE"},{"t":43710,"v":-0.71,"s":"LI Gc MARE"},{"t":43860,"v":-0.71,"s":"LI Gc MARE"},{"t":44010,"v":-0.72,"s":"LI Gc MARE"},
      {"t":44160,"v":-0.74,"s":"LI Gc MARE"},{"t":44310,"v":-0.76,"s":"LI Gc MARE"},{"t":44460,"v":-0.78,"s":"LI Gc MARE"},{"t":44610,"v":-0.8,"s":"LI Gc MARE"},{"t":44760,"v":-0.83,"s":"LI Gc MARE"},{"t":44910,"v":-0.86,"s":"LI Gc MARE"},{"t":45060,"v":-0.89,"s":"LI Gc MARE"},{"t":45210,"v":-0.92,"s":"LI Gc MARE"},{"t":45360,"v":-0.94,"s":"LI Gc MARE"},{"t":45510,"v":-0.96,"s":"LI Gc MARE"},
      {"t":45660,"v":-0.97,"s":"LI Gc MARE"},{"t":45810,"v":-0.98,"s":"LI Gc MARE"},{"t":45960,"v":-0.98,"s":"LI Gc MARE"},{"t":46110,"v":-0.97,"s":"LI Gc MARE"},{"t":46260,"v":-0.95,"s":"LI Gc MARE"},{"t":46410,"v":-0.92,"s":"LI Gc MARE"},{"t":46560,"v":-0.89,"s":"LI Gc MARE"},{"t":46710,"v":-0.85,"s":"LI Gc MARE"},{"t":46860,"v":-0.81,"s":"LI Gc MARE"},{"t":47010,"v":-0.77,"s":"LI Gc MARE"},
      {"t":47160,"v":-0.73,"s":"LI Gc MARE"},{"t":47310,"v":-0.7,"s":"LI Gc MARE"},{"t":47460,"v":-0.67,"s":"LI Gc MARE"},{"t":47610,"v":-0.64,"s":"LI Gc MARE"},{"t":47760,"v":-0.62,"s":"LI Gc MARE"},{"t":47910,"v":-0.61,"s":"LI Gc MARE"},{"t":48060,"v":-0.59,"s":"LI Gc MARE"},{"t":48210,"v":-0.57,"s":"LI Gc MARE"},{"t":48360,"v":-0.56,"s":"LI Gc MARE"},{"t":48510,"v":-0.54,"s":"LI Gc MARE"},
      {"t":48660,"v":-0.52,"s":"LI Gc MARE"},{"t":48810,"v":-0.5,"s":"LI Gc MARE"},{"t":48960,"v":-0.48,"s":"LI Gc MARE"},{"t":49110,"v":-0.46,"s":"LI Gc MARE"},{"t":49260,"v":-0.44,"s":"LI Gc MARE"},{"t":49410,"v":-0.42,"s":"LI Gc MARE"},{"t":49560,"v":-0.41,"s":"LI Gc MARE"},{"t":49710,"v":-0.39,"s":"LI Gc MARE"},{"t":49860,"v":-0.38,"s":"LI Gc MARE"},{"t":50010,"v":-0.36,"s":"LI Gc MARE"},
      {"t":50160,"v":-0.35,"s":"LI Gc MARE"},{"t":50310,"v":-0.33,"s":"LI Gc MARE"},{"t":50460,"v":-0.32,"s":"LI Gc MARE"},{"t":50610,"v":-0.31,"s":"LI Gc MARE"},{"t":50760,"v":-0.29,"s":"LI Gc MARE"},{"t":50910,"v":-0.28,"s":"LI Gc MARE"},{"t":51060,"v":-0.26,"s":"LI Gc MARE"},{"t":51210,"v":-0.25,"s":"LI Gc MARE"},{"t":51360,"v":-0.23,"s":"LI Gc MARE"},{"t":51510,"v":-0.22,"s":"LI Gc MARE"},
      {"t":51660,"v":-0.2,"s":"LI Gc MARE"},{"t":51810,"v":-0.18,"s":"LI Gc MARE"},{"t":51960,"v":-0.16,"s":"LI Gc MARE"},{"t":52110,"v":-0.14,"s":"LI Gc MARE"},{"t":52260,"v":-0.12,"s":"LI Gc MARE"},{"t":52410,"v":-0.1,"s":"LI Gc MARE"},{"t":52560,"v":-0.08,"s":"LI Gc MARE"},{"t":52710,"v":-0.05,"s":"LI Gc MARE"},{"t":52860,"v":-0.03,"s":"LI Gc MARE"},{"t":53010,"v":0.0,"s":"LI Gc MARE"},
      {"t":53160,"v":0.03,"s":"LI Gc MARE"},{"t":53310,"v":0.06,"s":"LI Gc MARE"},{"t":53460,"v":0.1,"s":"LI Gc MARE"},{"t":53610,"v":0.14,"s":"LI Gc MARE"},{"t":53760,"v":0.19,"s":"LI Gc MARE"},{"t":53910,"v":0.25,"s":"LI Gc MARE"},{"t":54060,"v":0.31,"s":"LI Gc MARE"},{"t":54210,"v":0.38,"s":"LI Gc MARE"},{"t":54360,"v":0.46,"s":"LI Gc MARE"},{"t":54510,"v":0.55,"s":"LI Gc MARE"},
      {"t":54660,"v":0.64,"s":"LI Gc MARE"},{"t":54810,"v":0.74,"s":"LI Gc MARE"},{"t":54960,"v":0.84,"s":"LI Gc MARE"},{"t":55110,"v":0.93,"s":"LI Gc MARE"},{"t":55260,"v":1.0,"s":"LI Gc MARE"},{"t":55410,"v":1.08,"s":"LI Gc MARE"},{"t":55560,"v":1.17,"s":"LI Gc MARE"},{"t":55710,"v":1.27,"s":"LI Gc MARE"},{"t":55860,"v":1.37,"s":"LI Gc MARE"},{"t":56010,"v":1.49,"s":"LI Gc MARE"},
      {"t":56160,"v":1.66,"s":"LI Gc MARE"},{"t":56310,"v":1.86,"s":"LI Gc MARE"},{"t":56460,"v":2.07,"s":"LI Gc MARE"},{"t":56610,"v":2.32,"s":"LI Gc MARE"},{"t":56760,"v":2.58,"s":"LI Gc MARE"},{"t":56910,"v":2.85,"s":"LI Gc MARE"},{"t":57060,"v":3.05,"s":"LI Gc MARE"},{"t":57210,"v":3.22,"s":"LI Gc MARE"},{"t":57360,"v":3.38,"s":"LI Gc MARE"},{"t":57510,"v":3.52,"s":"LI Gc MARE"}
    ],
    "sm": [
      {"t":38347,"v":-1.3,"s":"smoothed IG1 Gc COR1"},{"t":38961,"v":-0.96,"s":"smoothed IG1 Gc COR1"},{"t":39575,"v":-0.84,"s":"smoothed IG1 Gc COR1"},{"t":40174,"v":0.95,"s":"smoothed IG1 Gc COR1"},{"t":40780,"v":1.54,"s":"smoothed IG1 Gc COR1"},{"t":41377,"v":-2.14,"s":"smoothed IG1 Gc COR1"},{"t":41990,"v":-2.36,"s":"smoothed IG1 Gc COR1"},{"t":42580,"v":-2.39,"s":"smoothed IG1 Gc COR1"},{"t":43195,"v":-0.64,"s":"smoothed IG1 Gc COR1"},{"t":43810,"v":-0.93,"s":"smoothed IG1 Gc COR1"},
      {"t":44409,"v":-1.2,"s":"smoothed IG1 Gc COR1"},{"t":45000,"v":-2.09,"s":"smoothed IG1 Gc COR1"},{"t":45638,"v":-1.12,"s":"smoothed IG1 Gc COR1"},{"t":46228,"v":-1.2,"s":"smoothed IG1 Gc COR1"},{"t":46826,"v":-1.02,"s":"smoothed IG1 Gc COR1"},{"t":47440,"v":-0.43,"s":"smoothed IG1 Gc COR1"},{"t":48037,"v":-0.81,"s":"smoothed IG1 Gc COR1"},{"t":48644,"v":-0.64,"s":"smoothed IG1 Gc COR1"},{"t":49266,"v":-0.54,"s":"smoothed IG1 Gc COR1"},{"t":49856,"v":0.02,"s":"smoothed IG1 Gc COR1"},
      {"t":50470,"v":-0.46,"s":"smoothed IG1 Gc COR1"},{"t":51068,"v":-1.17,"s":"smoothed IG1 Gc COR1"},{"t":51673,"v":0.05,"s":"smoothed IG1 Gc COR1"},{"t":52298,"v":1.28,"s":"smoothed IG1 Gc COR1"},{"t":52887,"v":0.97,"s":"smoothed IG1 Gc COR1"},{"t":53502,"v":1.36,"s":"smoothed IG1 Gc COR1"},{"t":54117,"v":-2.03,"s":"smoothed IG1 Gc COR1"},{"t":55041,"v":0.44,"s":"smoothed IG1 Gc COR1"},{"t":55687,"v":1.18,"s":"smoothed IG1 Gc COR1"},{"t":56301,"v":-0.28,"s":"smoothed IG1 Gc COR1"}
    ]
  },
  "layer": [
    {
      "data": {"name": "cor"},
      "mark": {"type": "point", "filled": false, "strokeWidth": 1, "size": 100, "opacity": 1},
      "encoding": {
        "x": {"field": "t", "type": "quantitative", "scale": {"domain": [38150, 57590], "nice": false, "zero": false},
              "axis": {"values": [40000, 44000, 48000, 52000, 56000], "labelExpr": "'' + datum.value", "title": "GPS time (s, day 055 2018)", "grid": true, "ticks": true, "tickSize": -8, "labelPadding": 20, "titlePadding": 21}},
        "y": {"field": "v", "type": "quantitative", "scale": {"domain": [-10, 8], "nice": false, "zero": false},
              "axis": {"values": [-10, -8, -6, -4, -2, 0, 2, 4, 6, 8], "labelExpr": "'' + datum.value", "title": "STEC(t)-STEC(t-1sd) (TECU) P.15", "grid": true, "ticks": true, "tickSize": -8, "labelPadding": 28, "titlePadding": 24}},
        "color": {"field": "s", "type": "nominal",
                  "scale": {"domain": ["IG1 Gc COR1", "IG1 Gc MARE", "LI Gc MARE", "smoothed IG1 Gc COR1"], "range": ["#ff2020", "#2e8fff", "#00b400", "#b000ff"]},
                  "legend": {"orient": "none", "legendX": 341, "legendY": 3, "title": null, "labelFont": "Liberation Sans", "labelFontSize": 28, "labelColor": "#000000", "labelAlign": "right", "labelOffset": -72, "labelLimit": 600, "symbolOffset": 359, "fillColor": "#ffffff", "padding": 6, "rowPadding": 3}},
        "shape": {"field": "s", "type": "nominal",
                  "scale": {"domain": ["IG1 Gc COR1", "IG1 Gc MARE", "LI Gc MARE", "smoothed IG1 Gc COR1"], "range": ["M-1,0H1M0,-1V1", "M-1,0H1M0,-1V1M-0.7,-0.7L0.7,0.7M-0.7,0.7L0.7,-0.7", "M-8.1,0H8.1M-0.9,-0.9L0.9,0.9M-0.9,0.9L0.9,-0.9", "M-8.1,-0.1H-1M1,-0.1H8.1M-8.1,0.1H-1M1,0.1H8.1M-1,-1H1V1H-1Z"]},
                  "legend": {"orient": "none", "legendX": 341, "legendY": 3, "title": null, "labelFont": "Liberation Sans", "labelFontSize": 28, "labelColor": "#000000", "labelAlign": "right", "labelOffset": -72, "labelLimit": 600, "symbolOffset": 359, "fillColor": "#ffffff", "padding": 6, "rowPadding": 3}}
      }
    },
    {
      "data": {"name": "mare"},
      "mark": {"type": "point", "filled": false, "strokeWidth": 1, "size": 144, "opacity": 1},
      "encoding": {
        "x": {"field": "t", "type": "quantitative", "axis": {"orient": "top", "values": [40000, 44000, 48000, 52000, 56000], "labels": false, "title": null, "grid": false, "ticks": true, "tickSize": -8}},
        "y": {"field": "v", "type": "quantitative", "axis": {"orient": "right", "values": [-10, -8, -6, -4, -2, 0, 2, 4, 6, 8], "labels": false, "title": null, "grid": false, "ticks": true, "tickSize": -8}},
        "color": {"field": "s", "type": "nominal"},
        "shape": {"field": "s", "type": "nominal"}
      }
    },
    {
      "data": {"name": "li"},
      "mark": {"type": "line", "strokeWidth": 1.5},
      "encoding": {
        "x": {"field": "t", "type": "quantitative", "axis": null},
        "y": {"field": "v", "type": "quantitative", "axis": null},
        "color": {"field": "s", "type": "nominal"}
      }
    },
    {
      "data": {"name": "li"},
      "mark": {"type": "point", "filled": false, "strokeWidth": 1.2, "size": 100, "opacity": 1, "shape": "M-1,-1L1,1M-1,1L1,-1"},
      "encoding": {
        "x": {"field": "t", "type": "quantitative", "axis": null},
        "y": {"field": "v", "type": "quantitative", "axis": null},
        "color": {"field": "s", "type": "nominal"}
      }
    },
    {
      "data": {"name": "sm"},
      "mark": {"type": "line", "strokeWidth": 2},
      "encoding": {
        "x": {"field": "t", "type": "quantitative", "axis": null},
        "y": {"field": "v", "type": "quantitative", "axis": null},
        "color": {"field": "s", "type": "nominal"}
      }
    },
    {
      "data": {"name": "sm"},
      "mark": {"type": "point", "filled": false, "strokeWidth": 1.5, "size": 100, "opacity": 1, "shape": "square"},
      "encoding": {
        "x": {"field": "t", "type": "quantitative", "axis": null},
        "y": {"field": "v", "type": "quantitative", "axis": null},
        "color": {"field": "s", "type": "nominal"}
      }
    }
  ],
  "resolve": {"axis": {"x": "independent", "y": "independent"}}
}
